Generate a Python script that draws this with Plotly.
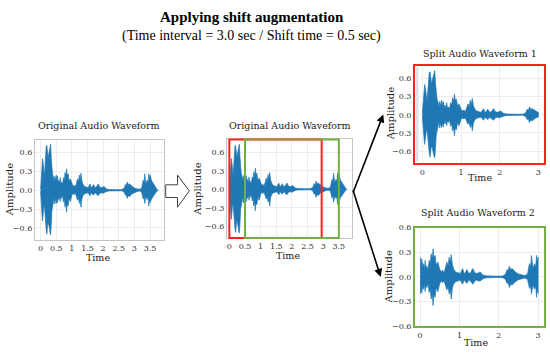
import plotly.graph_objects as go

W, H = 550, 356

# ---- data: waveform envelope (time s, upper, lower amplitude)
TIME = [0.00, 0.02, 0.04, 0.06, 0.08, 0.10, 0.12, 0.14, 0.16, 0.18,
        0.20, 0.22, 0.24, 0.26, 0.28, 0.30, 0.32, 0.34, 0.36, 0.38,
        0.41, 0.43, 0.45, 0.47, 0.50, 0.52, 0.54, 0.57, 0.59, 0.61,
        0.63, 0.65, 0.67, 0.70, 0.73, 0.76, 0.78, 0.81, 0.83, 0.85,
        0.88, 0.91, 0.95, 1.00, 1.04, 1.07, 1.11, 1.14, 1.18, 1.21,
        1.24, 1.27, 1.29, 1.32, 1.35, 1.40, 1.46, 1.52, 1.58, 1.62,
        1.65, 1.69, 1.74, 1.78, 1.84, 1.89, 1.94, 1.99, 2.03, 2.08,
        2.11, 2.19, 2.30, 2.45, 2.60, 2.67, 2.71, 2.74, 2.77, 2.80,
        2.84, 2.92, 3.00, 3.09, 3.16, 3.23, 3.28, 3.31, 3.33, 3.37,
        3.41, 3.44, 3.46, 3.48, 3.50, 3.55, 3.60, 3.65, 3.70, 3.75]
UPPER = [0.02, 0.20, 0.38, 0.50, 0.44, 0.30, 0.22, 0.38, 0.58, 0.70,
         0.71, 0.60, 0.50, 0.58, 0.64, 0.70, 0.73, 0.52, 0.32, 0.26,
         0.20, 0.13, 0.22, 0.15, 0.24, 0.15, 0.22, 0.12, 0.16, 0.10,
         0.20, 0.11, 0.13, 0.09, 0.20, 0.16, 0.28, 0.22, 0.34, 0.24,
         0.26, 0.14, 0.18, 0.09, 0.06, 0.08, 0.05, 0.10, 0.18, 0.13,
         0.24, 0.17, 0.27, 0.15, 0.10, 0.06, 0.05, 0.04, 0.10, 0.04,
         0.05, 0.09, 0.04, 0.05, 0.10, 0.05, 0.04, 0.05, 0.06, 0.03,
         0.02, 0.012, 0.008, 0.008, 0.01, 0.03, 0.09, 0.07, 0.13, 0.09,
         0.10, 0.06, 0.035, 0.02, 0.015, 0.03, 0.16, 0.12, 0.26, 0.10,
         0.16, 0.12, 0.26, 0.18, 0.24, 0.15, 0.10, 0.07, 0.03, 0.005]
LOWER = [-0.02, -0.18, -0.36, -0.49, -0.42, -0.28, -0.24, -0.34, -0.52, -0.64,
         -0.70, -0.58, -0.50, -0.56, -0.60, -0.68, -0.71, -0.55, -0.33, -0.28,
         -0.20, -0.12, -0.22, -0.14, -0.21, -0.14, -0.20, -0.11, -0.15, -0.09,
         -0.18, -0.10, -0.13, -0.08, -0.19, -0.15, -0.27, -0.21, -0.35, -0.22,
         -0.25, -0.13, -0.18, -0.08, -0.05, -0.07, -0.05, -0.09, -0.16, -0.12,
         -0.21, -0.15, -0.27, -0.14, -0.09, -0.06, -0.05, -0.04, -0.09, -0.04,
         -0.05, -0.08, -0.04, -0.05, -0.09, -0.05, -0.04, -0.05, -0.05, -0.03,
         -0.02, -0.012, -0.008, -0.008, -0.01, -0.03, -0.08, -0.07, -0.13, -0.09,
         -0.10, -0.06, -0.035, -0.02, -0.015, -0.03, -0.14, -0.11, -0.21, -0.10,
         -0.15, -0.11, -0.25, -0.16, -0.20, -0.14, -0.10, -0.06, -0.03, -0.005]

INTERVAL = 3.0      # split window length (s)
SHIFT = 0.5         # shift time (s)
RED_END = 2.95      # drawn end of red window on the overview

X_TICKS_FULL = [0, 0.5, 1, 1.5, 2, 2.5, 3, 3.5]
X_TEXT_FULL = ["0", "0.5", "1", "1.5", "2", "2.5", "3", "3.5"]
X_TICKS_SPLIT = [0, 1, 2, 3]
Y_TICKS = [-0.6, -0.3, 0.0, 0.3, 0.6]
Y_TEXT = ["\u22120.6", "\u22120.3", "0.0", "0.3", "0.6"]

TITLE = "Applying shift augmentation"
SUBTITLE = "(Time interval = 3.0 sec / Shift time = 0.5 sec)"
PANEL_TITLES = ["Original Audio Waveform", "Original Audio Waveform",
                "Split Audio Waveform 1", "Split Audio Waveform 2"]

BLUE = "#1f77b4"
RED = "#ff1f1f"
GREEN = "#72b043"
SERIF = "DejaVu Serif"


def px(x):
    return x / W


def py(y):
    return 1 - y / H


def envelope(t0, t1, offset):
    sel = [i for i, t in enumerate(TIME) if t0 - 1e-9 <= t <= t1 + 1e-9]
    ts = [TIME[i] - offset for i in sel]
    up = [UPPER[i] for i in sel]
    lo = [LOWER[i] for i in sel]
    return ts + ts[::-1], up + lo[::-1]


fig = go.Figure()

panels = [
    ("x", "y", TIME[0], TIME[-1], 0.0),
    ("x2", "y2", TIME[0], TIME[-1], 0.0),
    ("x3", "y3", 0.0, INTERVAL, 0.0),
    ("x4", "y4", SHIFT, SHIFT + INTERVAL, SHIFT),
]
for xa, ya, a, b, off in panels:
    xs, ys = envelope(a, b, off)
    fig.add_trace(go.Scatter(x=xs, y=ys, xaxis=xa, yaxis=ya, mode="lines",
                             fill="toself", fillcolor=BLUE,
                             line=dict(color="rgba(31,119,180,0.75)", width=0.9),
                             hoverinfo="skip", showlegend=False))

# panel geometry in pixels: left, right, top, bottom, xrange, yrange, frame color
geo = [
    (35, 163.5, 140, 242, [-0.18, 3.93], [-0.79, 0.79], "#c4c4c4", 1.2),
    (227, 352.3, 139, 240, [-0.075, 3.93], [-0.79, 0.806], "#c4c4c4", 1.2),
    (415, 544, 63.3, 163.3, [-0.19, 3.145], [-0.80, 0.81], RED, 2),
    (415, 544, 229.3, 330.5, [-0.13, 3.15], [-0.6, 0.6], GREEN, 2),
]

tickfont = dict(family=SERIF, size=8, color="#333333")
layout_axes = {}
for i, (l, r, t, b, xr, yr, fc, lw) in enumerate(geo):
    sfx = "" if i == 0 else str(i + 1)
    full = i < 2
    layout_axes["xaxis" + sfx] = dict(
        domain=[px(l), px(r)], range=xr, anchor="y" + sfx,
        tickmode="array",
        tickvals=X_TICKS_FULL if full else X_TICKS_SPLIT,
        ticktext=X_TEXT_FULL if full else [str(v) for v in X_TICKS_SPLIT],
        showgrid=True, gridcolor="#ececec", gridwidth=0.6, zeroline=False,
        showline=True, mirror=True, linecolor=fc, linewidth=lw,
        ticks="", tickfont=tickfont, fixedrange=True)
    layout_axes["yaxis" + sfx] = dict(
        domain=[py(b), py(t)], range=yr, anchor="x" + sfx,
        tickmode="array", tickvals=Y_TICKS, ticktext=Y_TEXT,
        showgrid=True, gridcolor="#ececec", gridwidth=0.6, zeroline=False,
        showline=True, mirror=True, linecolor=fc, linewidth=lw,
        ticks="", tickfont=tickfont, fixedrange=True)

fig.update_layout(**layout_axes)

shapes = []
shapes.append(dict(type="rect", xref="paper", yref="paper",
                   x0=px(416), x1=px(418.5), y0=py(162), y1=py(64.5),
                   fillcolor="#dde2e8", line=dict(width=0), layer="below"))
shapes.append(dict(type="rect", xref="x2", yref="y2 domain",
                   x0=0, x1=RED_END, y0=0, y1=1,
                   line=dict(color=RED, width=2)))
shapes.append(dict(type="rect", xref="x2", yref="y2 domain",
                   x0=SHIFT, x1=SHIFT + INTERVAL, y0=0, y1=1,
                   line=dict(color=GREEN, width=2)))
pts = [(165.7, 185.5), (177.5, 185.5), (177.5, 175.5), (189.3, 191.8),
       (177.5, 208.5), (177.5, 198.5), (165.7, 198.5)]
path = "M " + " L ".join(f"{px(x):.5f},{py(y):.5f}" for x, y in pts) + " Z"
shapes.append(dict(type="path", xref="paper", yref="paper", path=path,
                   fillcolor="white", line=dict(color="#444444", width=1)))
fig.update_layout(shapes=shapes)

ann = []
ann.append(dict(text="<b>" + TITLE + "</b>", x=px(252), y=py(13),
                font=dict(family="Liberation Serif", size=15, color="#000")))
ann.append(dict(text=SUBTITLE, x=px(251.5), y=py(33),
                font=dict(family="Liberation Serif", size=14, color="#000")))
title_pos = [(99, 125), (289.5, 125), (480, 51), (478, 213.5)]
time_pos = [(98, 260), (288, 258.5), (480, 178.5), (476, 347)]
amp_pos = [(9, 191), (197.5, 190), (390, 113), (388.5, 280)]
for k in range(4):
    ann.append(dict(text=PANEL_TITLES[k], x=px(title_pos[k][0]), y=py(title_pos[k][1]),
                    font=dict(family=SERIF, size=9.5, color="#222")))
    ann.append(dict(text="Time", x=px(time_pos[k][0]), y=py(time_pos[k][1]),
                    font=dict(family=SERIF, size=9.5, color="#222")))
    ann.append(dict(text="Amplitude", x=px(amp_pos[k][0]), y=py(amp_pos[k][1]),
                    textangle=-90,
                    font=dict(family=SERIF, size=10, color="#222")))
for a in ann:
    a.update(xref="paper", yref="paper", showarrow=False,
             xanchor="center", yanchor="middle")

vx, vy = 352.7, 192.3
for tx, ty in [(383.3, 113.3), (380.7, 280.0)]:
    ann.append(dict(x=px(tx), y=py(ty), xref="paper", yref="paper",
                    ax=vx - tx, ay=vy - ty, axref="pixel", ayref="pixel",
                    text="", showarrow=True, arrowhead=2, arrowsize=1,
                    arrowwidth=1.6, arrowcolor="#000"))
fig.update_layout(annotations=ann)

fig.update_layout(width=W, height=H, margin=dict(l=0, r=0, t=0, b=0),
                  paper_bgcolor="white", plot_bgcolor="white",
                  showlegend=False)

fig.write_html("out.html", config={"displayModeBar": False},
               post_script="document.body.style.margin='0';"
                           "document.body.style.overflow='hidden';")
